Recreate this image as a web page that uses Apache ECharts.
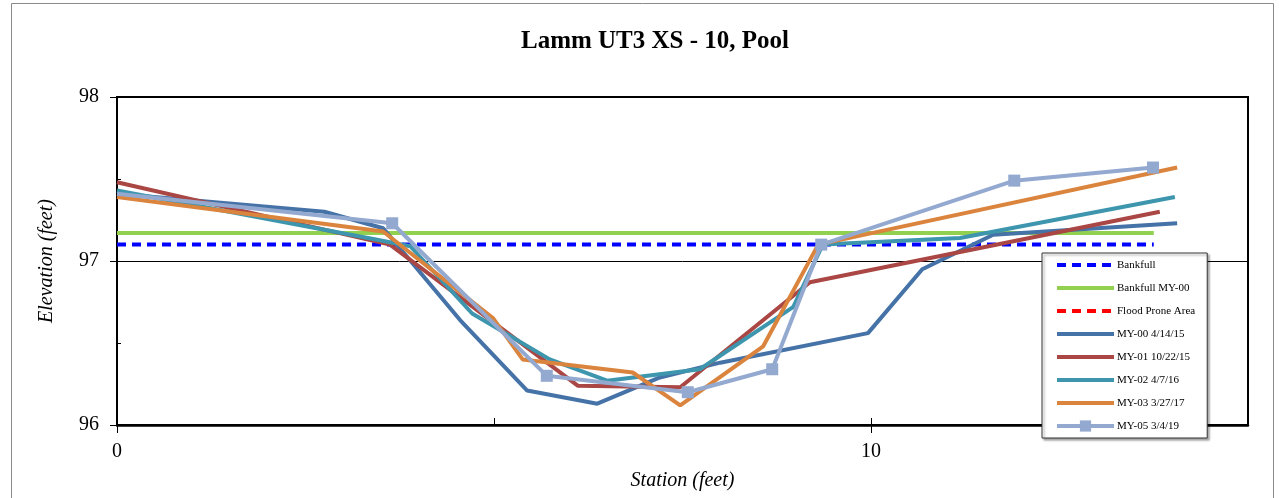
<!DOCTYPE html>
<html>
<head>
<meta charset="utf-8">
<script src="https://cdn.jsdelivr.net/npm/echarts@6/dist/echarts.min.js"></script>
<style>
html,body{margin:0;padding:0;background:#fff;}
#chart{width:1279px;height:498px;}
</style>
</head>
<body>
<div id="chart"></div>
<script>
// ---- data ----
const titleText = 'Lamm UT3 XS - 10, Pool';
const xAxisName = 'Station (feet)';
const yAxisName = 'Elevation (feet)';
const seriesNames = ['Bankfull', 'Bankfull MY-00', 'Flood Prone Area', 'MY-00 4/14/15', 'MY-01 10/22/15', 'MY-02 4/7/16', 'MY-03 3/27/17', 'MY-05 3/4/19'];

const bankfullX = [0, 13.75];
const bankfullY = [97.10, 97.10];
const bankfullMY00X = [0, 13.75];
const bankfullMY00Y = [97.17, 97.17];
const floodProneX = [];
const floodProneY = [];

const my00X = [0, 2.75, 3.53, 4.55, 5.44, 6.37, 7.2, 8.0, 9.96, 10.68, 11.62, 14.06];
const my00Y = [97.41, 97.30, 97.20, 96.64, 96.21, 96.13, 96.29, 96.38, 96.56, 96.95, 97.16, 97.23];

const my01X = [0, 3.62, 6.11, 7.47, 9.19, 13.83];
const my01Y = [97.48, 97.10, 96.24, 96.23, 96.87, 97.30];

const my02X = [0, 3.45, 3.89, 4.71, 5.74, 6.50, 7.73, 8.97, 9.36, 11.18, 14.03];
const my02Y = [97.43, 97.13, 97.09, 96.68, 96.40, 96.27, 96.34, 96.72, 97.10, 97.14, 97.39];

const my03X = [0, 3.53, 4.99, 5.38, 6.84, 7.47, 8.57, 9.30, 14.06];
const my03Y = [97.39, 97.18, 96.65, 96.40, 96.32, 96.12, 96.48, 97.10, 97.57];

const my05X = [0, 3.65, 5.70, 7.57, 8.69, 9.34, 11.90, 13.74];
const my05Y = [97.41, 97.23, 96.30, 96.20, 96.34, 97.10, 97.49, 97.57];

const xMin = 0, xMax = 15, xMajor = 10, xMinor = 5;
const yMin = 96, yMax = 98, yMajor = 1, yMinor = 0.5;

// ---- build ----
function pairs(xs, ys) { return xs.map((x, i) => [x, ys[i]]); }
const serif = '"Liberation Serif", "Times New Roman", serif';

const colors = ['#0000FF', '#92D050', '#FF0000', '#4572A7', '#AA4643', '#3D96AE', '#DB843D', '#93A9CF'];
const dataSets = [
  pairs(bankfullX, bankfullY), pairs(bankfullMY00X, bankfullMY00Y), pairs(floodProneX, floodProneY),
  pairs(my00X, my00Y), pairs(my01X, my01Y), pairs(my02X, my02Y), pairs(my03X, my03Y), pairs(my05X, my05Y)
];
const dashed = [true, false, true, false, false, false, false, false];
const markerIdx = 7;

const series = seriesNames.map((name, i) => {
  const isMarker = i === markerIdx;
  let data = dataSets[i];
  if (isMarker) {
    data = data.map((p, j) => j === 0 ? { value: p, symbol: 'none' } : p);
  }
  return {
    name: name,
    type: 'line',
    xAxisIndex: 0,
    yAxisIndex: 0,
    data: data,
    symbol: isMarker ? 'rect' : 'none',
    symbolSize: isMarker ? 12 : 0,
    showSymbol: isMarker,
    clip: true,
    animation: false,
    color: colors[i],
    itemStyle: { color: colors[i] },
    lineStyle: { color: colors[i], width: 4, type: dashed[i] ? [9, 6] : 'solid', cap: 'butt' },
    emphasis: { disabled: true },
    z: 2 + i
  };
});

const legendData = seriesNames.map((name, i) => i === markerIdx
  ? { name: name }
  : { name: name, itemStyle: { opacity: 0 } });

const chart = echarts.init(document.getElementById('chart'), null, { renderer: 'canvas' });
chart.setOption({
  animation: false,
  backgroundColor: '#fff',
  title: {
    text: titleText,
    left: 650, top: 24, textAlign: 'center',
    textStyle: { fontFamily: serif, fontSize: 25, fontWeight: 'bold', color: '#000' }
  },
  graphic: [{
    type: 'rect', shape: { x: 11.5, y: 3.5, width: 1262, height: 520 },
    style: { fill: null, stroke: '#8a8a8a', lineWidth: 1 }, silent: true, z: -10
  }],
  grid: {
    left: 117, top: 97, right: 31, bottom: 73,
    show: true, borderColor: '#000', borderWidth: 2, backgroundColor: 'transparent'
  },
  legend: {
    orient: 'vertical',
    left: 1042, top: 253,
    padding: [5, 12, 5, 13],
    itemWidth: 57, itemHeight: 14, itemGap: 9,
    backgroundColor: '#fff',
    borderColor: '#333', borderWidth: 1,
    shadowColor: 'rgba(0,0,0,0.35)', shadowOffsetX: 2, shadowOffsetY: 2, shadowBlur: 2,
    textStyle: { fontFamily: serif, fontSize: 11, color: '#000', padding: [0, 0, 0, -2], lineHeight: 14 },
    lineStyle: { width: 4 },
    data: legendData,
    z: 20
  },
  xAxis: [{
    type: 'value', min: xMin, max: xMax, interval: xMajor,
    name: xAxisName, nameLocation: 'middle', nameGap: 46,
    nameTextStyle: { fontFamily: serif, fontSize: 20, fontStyle: 'italic', color: '#000' },
    axisLine: { show: true, lineStyle: { color: '#000', width: 2.5 } },
    axisTick: { show: true, inside: false, length: 8, lineStyle: { color: '#000', width: 1 } },
    axisLabel: { fontFamily: serif, fontSize: 20, color: '#000', margin: 17, showMaxLabel: false },
    splitLine: { show: false }
  }, {
    type: 'value', min: xMin, max: xMax, interval: xMinor, position: 'bottom',
    axisLine: { show: false },
    axisTick: { show: true, inside: true, length: 7, lineStyle: { color: '#000', width: 1 } },
    axisLabel: { show: false }, splitLine: { show: false }
  }],
  yAxis: [{
    type: 'value', min: yMin, max: yMax, interval: yMajor,
    name: yAxisName, nameLocation: 'middle', nameGap: 60, nameRotate: 90,
    nameTextStyle: { fontFamily: serif, fontSize: 20, fontStyle: 'italic', color: '#000' },
    axisLine: { show: true, lineStyle: { color: '#000', width: 2 } },
    axisTick: { show: true, inside: false, length: 7, lineStyle: { color: '#000', width: 1 } },
    axisLabel: { fontFamily: serif, fontSize: 20, color: '#000', margin: 18 },
    splitLine: { show: true, lineStyle: { color: '#000', width: 1 } }
  }, {
    type: 'value', min: yMin, max: yMax, interval: yMinor, position: 'left',
    axisLine: { show: false },
    axisTick: { show: true, inside: true, length: 4, lineStyle: { color: '#000', width: 1 } },
    axisLabel: { show: false }, splitLine: { show: false }
  }],
  series: series
});
</script>
</body>
</html>
